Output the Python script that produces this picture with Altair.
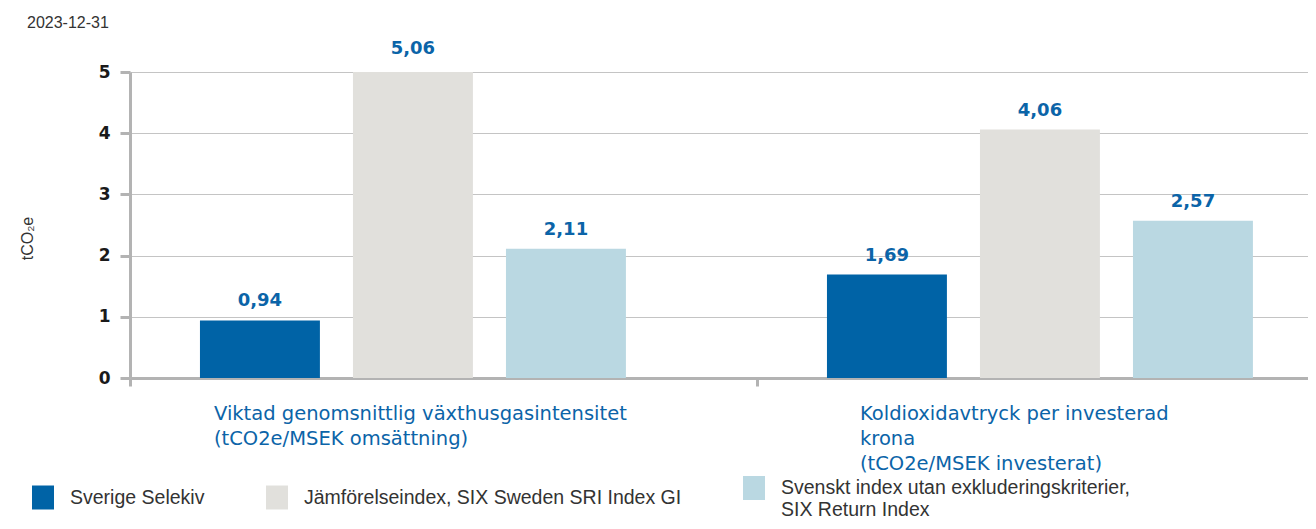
import altair as alt
import pandas as pd

# ---- data ----
categories = [
    "Viktad genomsnittlig växthusgasintensitet|(tCO2e/MSEK omsättning)",
    "Koldioxidavtryck per investerad|krona|(tCO2e/MSEK investerat)",
]
series = [
    "Sverige Selekiv",
    "Jämförelseindex, SIX Sweden SRI Index GI",
    "Svenskt index utan exkluderingskriterier,|SIX Return Index",
]
values_cat1 = [0.94, 5.06, 2.11]
values_cat2 = [1.69, 4.06, 2.57]
colors = ["#0063a6", "#e1e0dc", "#bad8e2"]
y_ticks = [0, 1, 2, 3, 4, 5]
date_label = "2023-12-31"
y_title = "tCO₂e"

rows = []
for cat, vals in zip(categories, [values_cat1, values_cat2]):
    for s, v in zip(series, vals):
        rows.append({"category": cat, "series": s, "value": v})
df = pd.DataFrame(rows)

BLUE_TXT = "#0b64a8"
GREY_AX = "#b3b3b3"

x_enc = alt.X(
    "category:N",
    sort=categories,
    scale=alt.Scale(domain=categories, range=[0, 1254], paddingInner=0, paddingOuter=0),
    axis=alt.Axis(
        title=None,
        labelAngle=0,
        labelAlign="left",
        labelBaseline="top",
        labelExpr="split(datum.label, '|')",
        labelFont="DejaVu Sans",
        labelFontSize=19.5,
        labelColor=BLUE_TXT,
        labelLineHeight=25,
        labelPadding=18,
        labelOffset={
            "condition": {"test": f"datum.value === '{categories[0]}'", "value": -230},
            "value": -211,
        },
        labelLimit=800,
        labelOverlap=False,
        labelFlush=False,
        labelBound=False,
        tickBand="extent",
        tickSize=8,
        tickWidth=3,
        tickColor=GREY_AX,
        domainColor=GREY_AX,
        domainWidth=3,
        grid=False,
    ),
)
xoff_enc = alt.XOffset(
    "series:N",
    sort=series,
    scale=alt.Scale(domain=series, paddingInner=0.216, paddingOuter=0.657, align=0.348),
)
y_enc = alt.Y(
    "value:Q",
    scale=alt.Scale(domain=[0, 5], nice=False, zero=True),
    axis=alt.Axis(
        title=y_title,
        titleFont="Liberation Sans",
        titleFontSize=16,
        titleFontWeight="normal",
        titleColor="#333333",
        titleAngle=270,
        titleAlign="center",
        titleBaseline="middle",
        titleX=-103,
        titleY=166,
        values=y_ticks,
        format="d",
        labelFont="DejaVu Sans",
        labelFontSize=17,
        labelFontWeight="bold",
        labelColor="#1a1a1a",
        labelPadding=10,
        tickSize=10,
        tickWidth=3,
        tickColor=GREY_AX,
        domainColor=GREY_AX,
        domainWidth=3,
        grid=True,
        gridColor="#c4c4c4",
        gridWidth=1,
    ),
)

color_enc = alt.Color(
    "series:N",
    sort=series,
    scale=alt.Scale(domain=series, range=colors),
    legend=alt.Legend(
        title=None,
        orient="none",
        legendX=-99,
        legendY=404,
        direction="horizontal",
        symbolType="M-0.917,-1H0.917V1H-0.917Z",
        symbolSize=576,
        symbolStrokeWidth=0,
        symbolOpacity=1,
        labelExpr="split(datum.label, '|')",
        labelFont="Liberation Sans",
        labelFontSize=19.5,
        labelColor="#333333",
        labelOffset=15,
        labelLimit=800,
        columnPadding=60,
        padding=0,
    ),
)

bars = alt.Chart(df).mark_bar(clip=True).encode(
    x=x_enc, xOffset=xoff_enc, y=y_enc, color=color_enc
)

labels = (
    alt.Chart(df)
    .transform_calculate(lbl="replace(format(datum.value, '.2f'), '.', ',')")
    .mark_text(
        font="DejaVu Sans",
        fontSize=18,
        fontWeight="bold",
        color=BLUE_TXT,
        align="center",
        baseline="alphabetic",
        dy=-14,
    )
    .encode(x=x_enc, xOffset=xoff_enc, y=y_enc, text="lbl:N")
)

chart = (
    alt.layer(bars, labels)
    .properties(
        width=1178,
        height=306,
        autosize=alt.AutoSizeParams(type="none"),
        padding={"left": 122, "top": 64, "right": 0, "bottom": 143},
        title=alt.TitleParams(
            date_label,
            anchor="start",
            frame="group",
            font="Liberation Sans",
            fontSize=16,
            fontWeight="normal",
            color="#333333",
            dx=-103,
            dy=-5,
        ),
    )
    .configure_view(strokeOpacity=0)
)

chart.save("out.html", embed_options={"renderer": "svg", "actions": False})
